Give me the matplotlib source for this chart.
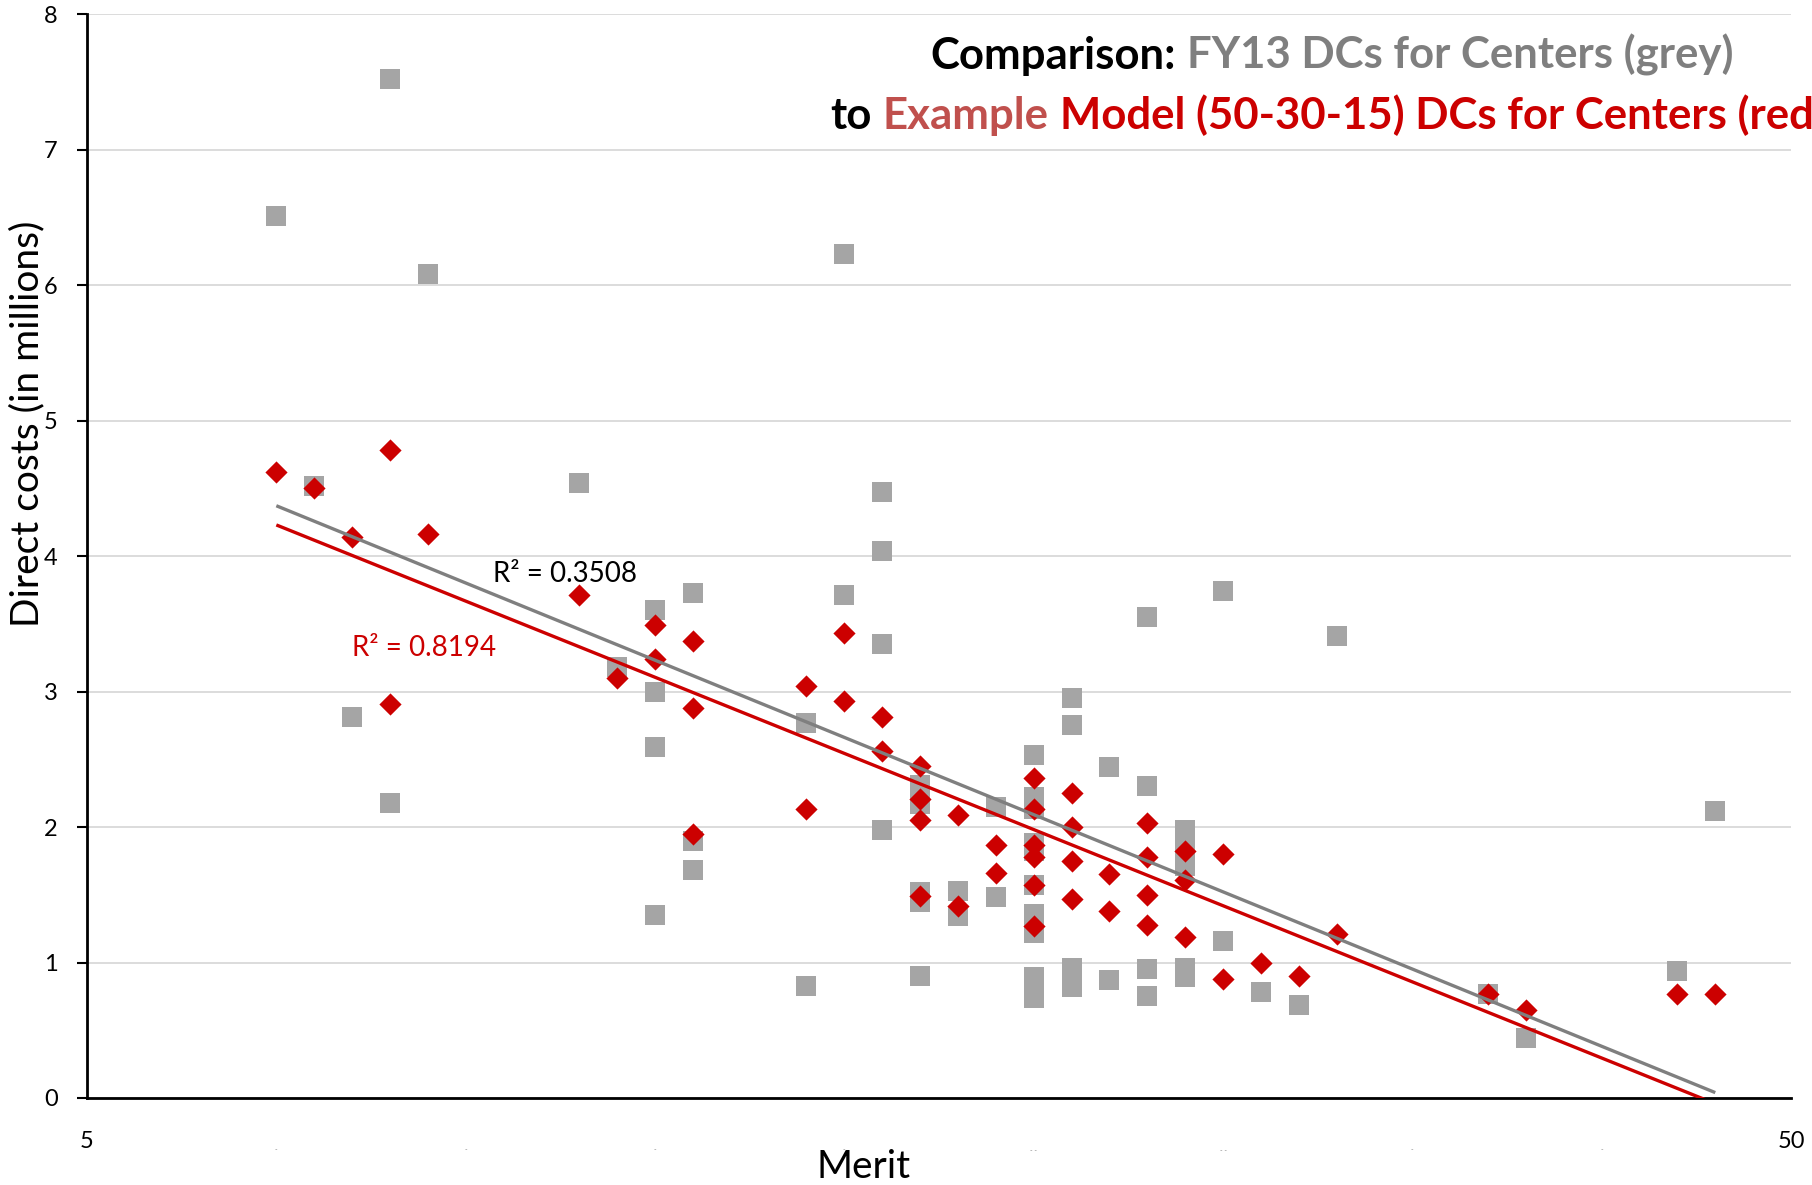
import matplotlib
matplotlib.use('Agg')
import matplotlib.pyplot as plt
import numpy as np

plt.rcParams['font.family'] = ['Lato', 'DejaVu Sans']

# ---- data (Merit, direct costs in millions) ----
grey_x = [10, 11, 12, 13, 13, 14, 18, 19,
          20, 20, 20, 20, 21, 21, 21, 24, 24, 25, 25,
          26, 26, 26, 26, 27, 27, 27, 27, 27, 28, 28, 29, 29,
          30, 30, 30, 30, 30, 30, 30, 30, 30, 30, 30,
          31, 31, 31, 31, 32, 32, 33, 33, 33, 33,
          34, 34, 34, 34, 34, 35, 35, 36, 37, 38, 42, 43, 47, 48]
grey_y = [6.51, 4.52, 2.81, 7.52, 2.18, 6.08, 4.54, 3.18,
          3.60, 3.00, 2.59, 1.35, 3.73, 1.90, 1.68, 2.77, 0.83, 6.23, 3.71,
          4.47, 4.04, 3.35, 1.98, 2.31, 2.17, 1.52, 1.45, 0.90, 1.53, 1.34, 2.15, 1.48,
          2.53, 2.22, 2.13, 1.88, 1.82, 1.57, 1.36, 1.22, 0.89, 0.82, 0.74,
          2.95, 2.75, 0.96, 0.82, 2.44, 0.87, 3.55, 2.30, 0.95, 0.75,
          1.98, 1.84, 1.71, 0.96, 0.89, 3.74, 1.16, 0.78, 0.69, 3.41, 0.77, 0.44, 0.94, 2.12]

red_x = [10, 11, 12, 13, 13, 14, 18, 19, 20, 20, 21, 21, 21,
         24, 24, 25, 25, 26, 26, 27, 27, 27, 27, 28, 28, 29, 29,
         30, 30, 30, 30, 30, 30, 31, 31, 31, 31, 32, 32,
         33, 33, 33, 33, 34, 34, 34, 35, 35, 36, 37, 38, 42, 43, 47, 48]
red_y = [4.62, 4.50, 4.14, 4.78, 2.91, 4.16, 3.71, 3.10, 3.49, 3.24, 3.37, 2.88, 1.95,
         3.04, 2.13, 3.43, 2.93, 2.81, 2.56, 2.45, 2.21, 2.05, 1.49, 2.09, 1.42, 1.87, 1.66,
         2.36, 2.13, 1.87, 1.78, 1.57, 1.27, 2.25, 2.00, 1.75, 1.47, 1.65, 1.38,
         2.03, 1.78, 1.50, 1.28, 1.82, 1.61, 1.19, 1.80, 0.88, 1.00, 0.90, 1.21, 0.77, 0.65, 0.77, 0.77]

grey_r2_label = "R\u00b2 = 0.3508"
red_r2_label = "R\u00b2 = 0.8194"

y_ticks = [0, 1, 2, 3, 4, 5, 6, 7, 8]
x_tick_labels = {5: "5", 50: "50"}
faint_x_labels = {10: "-", 15: "-", 20: "-", 25: "-", 30: "- -", 35: "- -", 40: "-", 45: "-"}

GREY = '#a5a5a5'
GREY_LINE = '#7f7f7f'
RED = '#cc0000'

W, H = 1812, 1185
fig = plt.figure(figsize=(W / 100, H / 100), dpi=100)
ax = fig.add_axes([87 / W, 1 - 1098 / H, (1791 - 87) / W, (1098 - 14) / H])

ax.set_xlim(5, 50)
ax.set_ylim(0, 8)

ax.scatter(grey_x, grey_y, marker='s', s=14.5 ** 2, color=GREY, linewidths=0, zorder=3)
ax.scatter(red_x, red_y, marker='D', s=11.3 ** 2, color=RED, linewidths=0, zorder=4)

# linear trendlines (least squares, like Excel)
for xs, ys, col in [(grey_x, grey_y, GREY_LINE), (red_x, red_y, RED)]:
    xs = np.asarray(xs, float)
    ys = np.asarray(ys, float)
    k, b = np.polyfit(xs, ys, 1)
    xx = np.array([xs.min(), xs.max()])
    ax.plot(xx, k * xx + b, color=col, lw=2.4, zorder=5, solid_capstyle='butt')

ax.text(15.72, 3.87, grey_r2_label, fontsize=20, color='black', ha='left', va='center', zorder=6)
ax.text(12.0, 3.32, red_r2_label, fontsize=20, color=RED, ha='left', va='center', zorder=6)

# axes styling
for s in ['top', 'right']:
    ax.spines[s].set_visible(False)
for s in ['left', 'bottom']:
    ax.spines[s].set_linewidth(2.0)
    ax.spines[s].set_color('black')
ax.set_yticks(y_ticks)
ax.set_yticklabels([str(v) for v in y_ticks])
ax.yaxis.grid(True, color='#d9d9d9', lw=1.3, zorder=0)
ax.set_axisbelow(True)
ax.tick_params(axis='y', length=7, width=1.5, pad=14, labelsize=17, direction='out')
ax.set_xticks(list(x_tick_labels.keys()))
ax.set_xticklabels(list(x_tick_labels.values()))
ax.tick_params(axis='x', length=0, pad=24, labelsize=17)
for xv, lab in faint_x_labels.items():
    ax.text(xv, -0.048, lab, transform=ax.get_xaxis_transform(), fontsize=5,
            color='#888888', ha='center', va='center')

fig.text(27 / W, 1 - 424 / H, "Direct costs (in millions)", rotation=90,
         fontsize=28, ha='center', va='center')
fig.text(864 / W, 1 - 1167 / H, "Merit", fontsize=28, ha='center', va='center')

# multi-coloured title (clipped at the right edge like the original)
line1 = [("Comparison:", 'black'), ("FY13 DCs for Centers (grey)", GREY_LINE)]
line2 = [("to", 'black'), ("Example", '#c0504d'), ("Model (50-30-15) DCs for Centers (red)", RED)]


def chain(x, y, pieces, size=31.5, gap=8):
    prev = ax.annotate(pieces[0][0], xy=(x, y), xycoords='figure fraction',
                       color=pieces[0][1], fontsize=size, fontweight='bold',
                       ha='left', va='bottom', annotation_clip=False)
    for txt, col in pieces[1:]:
        prev = ax.annotate(txt, xy=(1, 0), xycoords=prev, xytext=(gap, 0),
                           textcoords='offset points', color=col, fontsize=size,
                           fontweight='bold', ha='left', va='bottom', annotation_clip=False)


chain(930 / W, 1 - 76 / H, line1)
chain(830 / W, 1 - 136 / H, line2)

fig.savefig('out.png', dpi=100)
